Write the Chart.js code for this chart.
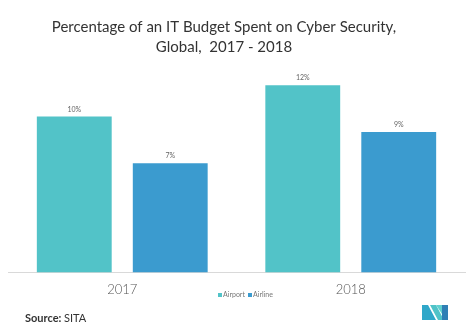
<!DOCTYPE html>
<html>
<head>
<meta charset="utf-8">
<script src="https://cdn.jsdelivr.net/npm/chart.js@4.4.0/dist/chart.umd.min.js"></script>
<style>
  html, body { margin: 0; padding: 0; background: #fff; }
  #wrap { width: 474px; height: 332px; position: relative; }
</style>
</head>
<body>
<div id="wrap"><canvas id="myChart"></canvas></div>
<script>
'use strict'

// chart data
const years = ['2017', '2018'];
const seriesNames = ['Airport', 'Airline'];
const airportValues = [10, 12];
const airlineValues = [7, 9];
const seriesColors = ['#52c3c8', '#3b9bcf'];
const titleLines = ['Percentage of an IT Budget Spent on Cyber Security,', 'Global,  2017 - 2018'];

// draws title, value labels, legend, source and logo on the canvas
const extrasPlugin = {
  id: 'extras',
  afterDraw(chart) {
    const ctx = chart.ctx;
    ctx.save();

    // title
    ctx.fillStyle = '#333333';
    ctx.font = '15px Lato';
    ctx.textAlign = 'center';
    ctx.textBaseline = 'middle';
    ctx.fillText(titleLines[0], 224, 27);
    ctx.fillText(titleLines[1], 224, 47);

    // value labels above bars
    ctx.font = '7px Lato';
    ctx.fillStyle = '#666666';
    chart.data.datasets.forEach((ds, i) => {
      chart.getDatasetMeta(i).data.forEach((bar, j) => {
        ctx.fillText(ds.data[j] + '%', bar.x, bar.y - 7);
      });
    });

    // legend
    let lx = 218;
    const ly = 295;
    ctx.textAlign = 'left';
    ctx.font = '7px Lato';
    chart.data.datasets.forEach((ds) => {
      ctx.fillStyle = ds.backgroundColor;
      ctx.fillRect(lx, ly - 2, 4, 4);
      ctx.fillStyle = '#777777';
      ctx.fillText(ds.label, lx + 5, ly);
      lx += 30;
    });

    // source
    ctx.fillStyle = '#333333';
    ctx.font = 'bold 11px Lato';
    ctx.fillText('Source:', 25, 318);
    let w = ctx.measureText('Source: ').width;
    ctx.font = '11px Lato';
    ctx.fillText('SITA', 25 + w, 318);

    // logo
    ctx.fillStyle = '#2fa7c9';
    ctx.beginPath();
    ctx.moveTo(422, 305); ctx.lineTo(428, 305); ctx.lineTo(436, 320); ctx.lineTo(422, 320);
    ctx.closePath(); ctx.fill();
    ctx.fillStyle = '#4fc3c8';
    ctx.beginPath();
    ctx.moveTo(430, 305); ctx.lineTo(436, 305); ctx.lineTo(444, 320); ctx.lineTo(438, 320);
    ctx.closePath(); ctx.fill();
    ctx.fillStyle = '#2f7fb5';
    ctx.fillRect(442, 305, 6, 15);
    ctx.fillStyle = '#5fd0cf';
    ctx.beginPath();
    ctx.moveTo(436, 305); ctx.lineTo(442, 305); ctx.lineTo(442, 314);
    ctx.closePath(); ctx.fill();

    ctx.restore();
  }
};

const data = {
  labels: years,
  datasets: [
    {
      label: seriesNames[0],
      data: airportValues,
      backgroundColor: seriesColors[0]
    },
    {
      label: seriesNames[1],
      data: airlineValues,
      backgroundColor: seriesColors[1]
    }
  ]
};

const config = {
  type: 'bar',
  data: data,
  options: {
    responsive: true,
    maintainAspectRatio: false,
    animation: false,
    categoryPercentage: 0.84,
    barPercentage: 0.78,
    layout: {
      padding: { top: 54, left: 8, right: 9, bottom: 24 }
    },
    plugins: {
      legend: { display: false },
      title: { display: false },
      tooltip: { enabled: false }
    },
    scales: {
      x: {
        grid: { display: false, drawTicks: false },
        border: { display: true, color: '#d9d9d9', width: 1 },
        ticks: {
          color: '#555555',
          font: { family: 'Lato', size: 13, weight: '300' },
          padding: 10
        }
      },
      y: {
        display: false,
        beginAtZero: true,
        min: 0,
        max: 14
      }
    }
  },
  plugins: [extrasPlugin]
};

let canvasChart = document.getElementById('myChart');
const myChart = new Chart(canvasChart, config);
</script>
</body>
</html>
